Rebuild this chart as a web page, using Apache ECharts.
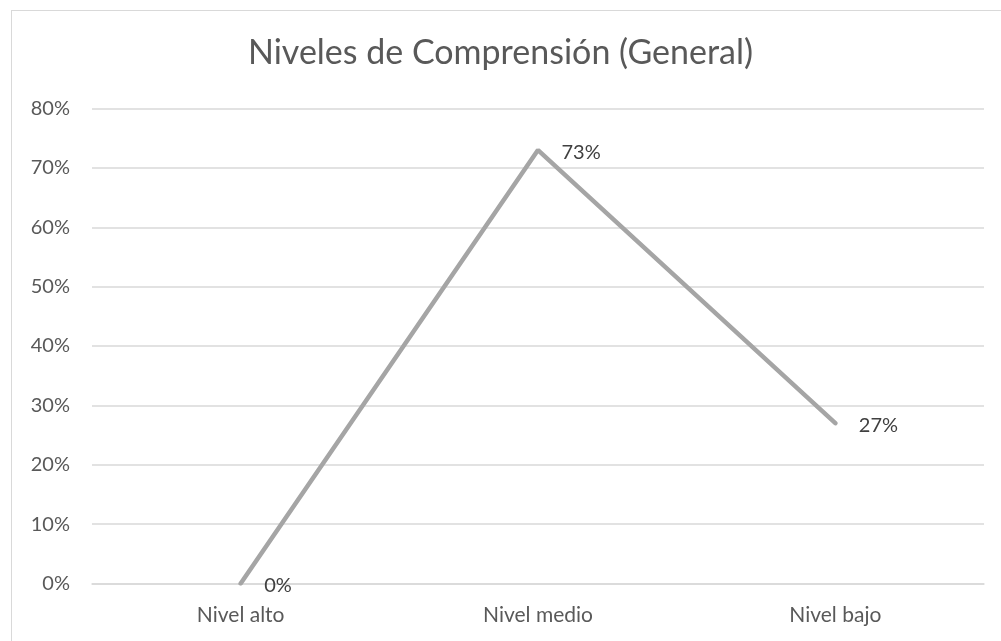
<!DOCTYPE html>
<html>
<head>
<meta charset="utf-8">
<script src="https://cdn.jsdelivr.net/npm/echarts@6/dist/echarts.min.js"></script>
<style>
  html, body { margin: 0; padding: 0; background: #fff; }
  #chart { position: absolute; left: 0; top: 0; width: 1001px; height: 641px; }
  .frame { position: absolute; left: 11px; top: 10px; width: 1000px; height: 640px;
           border-left: 1px solid #d9d9d9; border-top: 1px solid #d9d9d9; }
</style>
</head>
<body>
<div class="frame"></div>
<div id="chart"></div>
<script>
// datos del gráfico
const niveles = ["Nivel alto", "Nivel medio", "Nivel bajo"];
const porcentajes = [0, 0.73, 0.27];
const tituloTexto = "Niveles de Comprensión (General)";

const fuente = "Lato";
const chart = echarts.init(document.getElementById("chart"), null, { renderer: "canvas" });
chart.setOption({
  animation: false,
  title: {
    text: tituloTexto,
    left: "center",
    top: 31,
    textStyle: { fontFamily: fuente, fontSize: 34, fontWeight: "normal", color: "#595959" }
  },
  grid: { left: 92, right: 17, top: 108.5, bottom: 57.5 },
  xAxis: {
    type: "category",
    data: niveles,
    boundaryGap: true,
    axisLine: { show: true, lineStyle: { color: "#d9d9d9", width: 1.5 } },
    axisTick: { show: false },
    axisLabel: { fontFamily: fuente, fontSize: 21, color: "#595959", margin: 21 }
  },
  yAxis: {
    type: "value",
    min: 0,
    max: 0.8,
    interval: 0.1,
    axisLine: { show: false },
    axisTick: { show: false },
    splitLine: { lineStyle: { color: "#d9d9d9", width: 1.5 } },
    axisLabel: {
      fontFamily: fuente, fontSize: 20, color: "#595959", margin: 22,
      formatter: (v) => Math.round(v * 100) + "%"
    }
  },
  series: [{
    type: "line",
    data: porcentajes,
    symbol: "circle",
    symbolSize: 1,
    itemStyle: { color: "#a5a5a5" },
    lineStyle: { color: "#a5a5a5", width: 4.5, cap: "round" },
    label: {
      show: true,
      position: "right",
      distance: 23,
      offset: [0, 2],
      fontFamily: fuente,
      fontSize: 20,
      color: "#404040",
      formatter: (p) => Math.round(p.value * 100) + "%"
    }
  }]
});
</script>
</body>
</html>
